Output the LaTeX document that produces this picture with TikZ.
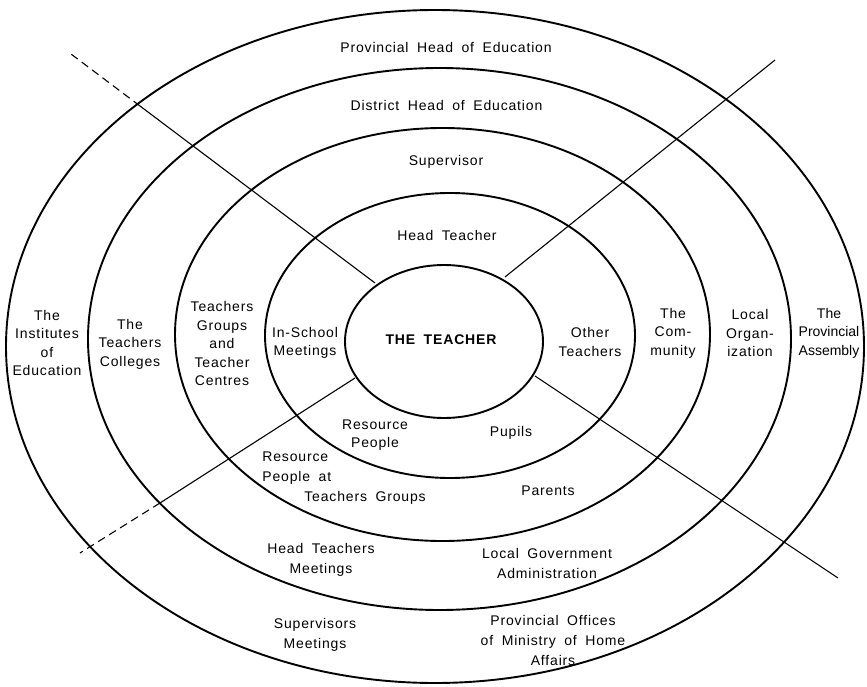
\documentclass[tikz,border=0pt]{standalone}
\usepackage{fontspec}
\setmainfont{Liberation Sans}[LetterSpace=6,WordSpace=1.8]
\begin{document}
\begin{tikzpicture}[x=1pt,y=-1pt,
  ring/.style={line width=1.9pt},
  spoke/.style={line width=1.1pt},
  spokedash/.style={spoke,dash pattern=on 8pt off 5pt},
  lbl/.style={font=\fontsize{14}{18.5}\selectfont,align=center,inner sep=0pt},
  lblwide/.style={lbl,font=\fontsize{14}{20}\selectfont},
  lbltight/.style={lbl,font=\fontsize{14}{18.5}\selectfont\addfontfeatures{LetterSpace=0}},
  core/.style={lbl,font=\fontsize{14}{18}\selectfont\bfseries}]
\useasboundingbox (0,0) rectangle (867,687);
\fill[white] (0,0) rectangle (867,687);

% concentric rings, outermost first
\draw[ring] (435,346.5) ellipse [x radius=429, y radius=336.5];
\draw[ring] (439.5,339) ellipse [x radius=351.5, y radius=271];
\draw[ring] (442.5,334.5) ellipse [x radius=267.5, y radius=206.5];
\draw[ring] (450,335.5) ellipse [x radius=185, y radius=142.5];
\draw[ring] (444,341.5) ellipse [x radius=99, y radius=76.5];

% spoke end points
\coordinate (ulIn) at (375,283);
\coordinate (ulMid) at (140,106);
\coordinate (ulOut) at (71,54);
\coordinate (urIn) at (505,277);
\coordinate (urOut) at (775,60);
\coordinate (llIn) at (355,378);
\coordinate (llMid) at (160,503);
\coordinate (llOut) at (80,553);
\coordinate (lrIn) at (535,376);
\coordinate (lrOut) at (838,578);

% spokes dividing the rings into sectors
\draw[spoke] (ulIn) -- (ulMid);
\draw[spokedash] (ulMid) -- (ulOut);
\draw[spoke] (urIn) -- (urOut);
\draw[spoke] (llIn) -- (llMid);
\draw[spokedash] (llMid) -- (llOut);
\draw[spoke] (lrIn) -- (lrOut);

% top sector
\node[lbl] (prov) at (446,47) {Provincial Head of Education};
\node[lbl] (dist) at (446.5,105) {District Head of Education};
\node[lbl] (sup) at (446,162) {Supervisor};
\node[lbl] (head) at (447,235) {Head Teacher};

% centre
\node[core] (teacher) at (441,340) {THE TEACHER};

% left sector
\node[lbl] (insch) at (305,343) {In-School\\Meetings};
\node[lbl] (groups) at (222,343.5) {Teachers\\Groups\\and\\Teacher\\Centres};
\node[lbl] (colleges) at (130,344) {The\\Teachers\\Colleges};
\node[lbl] (inst) at (47,343) {The\\Institutes\\of\\Education};

% right sector
\node[lbl] (other) at (590,342) {Other\\Teachers};
\node[lbl] (comm) at (673,333) {The\\Com-\\munity};
\node[lbl] (org) at (750,333) {Local\\Organ-\\ization};
\node[lbltight] (assembly) at (829,333) {The\\Provincial\\Assembly};

% bottom sector
\node[lbl] (resp) at (375,435) {Resource\\People};
\node[lbl] (pupils) at (511,433) {Pupils};
\node[lblwide,align=left] (respgrp) at (344,478)
  {Resource\\People at\\\hspace*{42pt}Teachers Groups};
\node[lbl] (parents) at (548,491) {Parents};
\node[lblwide] (htm) at (321,560) {Head Teachers\\Meetings};
\node[lblwide] (lga) at (547,563) {Local Government\\Administration};
\node[lblwide] (supm) at (315,635) {Supervisors\\Meetings};
\node[lblwide] (pom) at (553,640) {Provincial Offices\\of Ministry of Home\\Affairs};
\end{tikzpicture}
\end{document}
